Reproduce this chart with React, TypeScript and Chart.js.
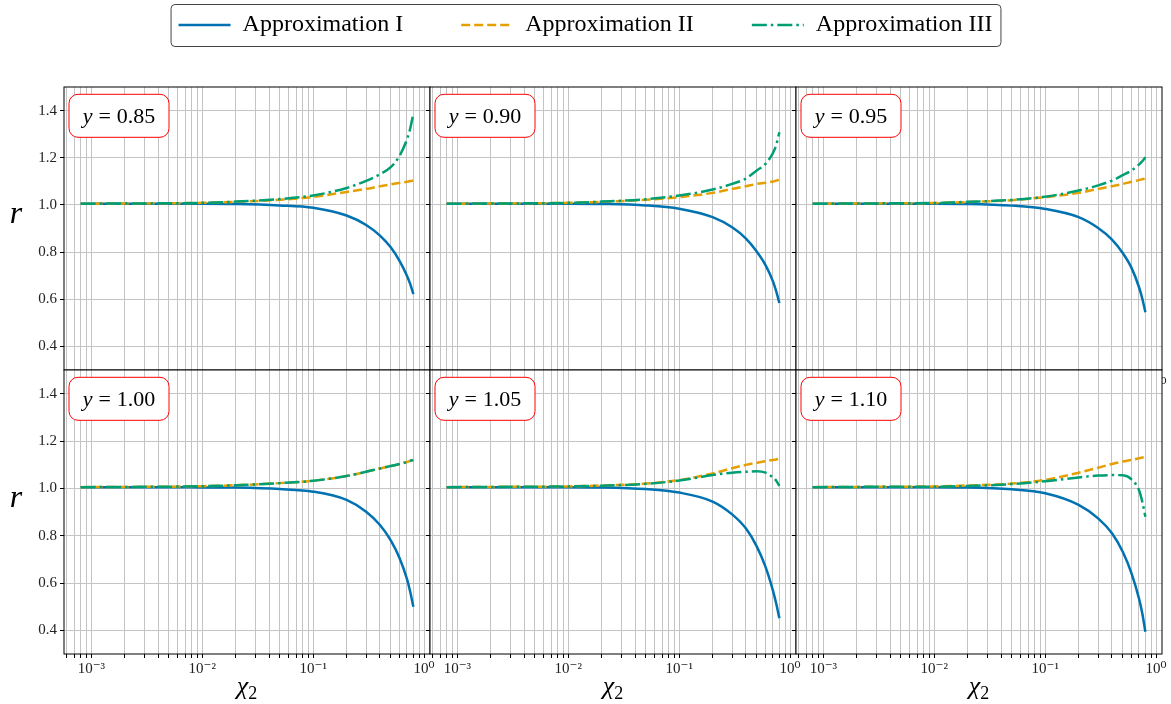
import React, { useEffect, useRef } from 'react';
import { Chart, registerables } from 'chart.js';

Chart.register(...registerables);

// ---------------- data ----------------
const chiValues = [0.0008, 0.002, 0.005, 0.01, 0.02, 0.05, 0.1, 0.2, 0.3, 0.4, 0.5, 0.6, 0.7, 0.75, 0.8];

const seriesNames = ['Approximation I', 'Approximation II', 'Approximation III'];
const panelLabels = ['0.85', '0.90', '0.95', '1.00', '1.05', '1.10'];

// y = 0.85
const rI_085 = [1.005, 1.005, 1.005, 1.005, 1.004, 0.998, 0.988, 0.955, 0.915, 0.870, 0.820, 0.763, 0.700, 0.664, 0.622];
const rII_085 = [1.005, 1.006, 1.007, 1.009, 1.013, 1.022, 1.034, 1.055, 1.068, 1.079, 1.087, 1.093, 1.098, 1.101, 1.103];
const rIII_085 = [1.005, 1.006, 1.007, 1.009, 1.014, 1.025, 1.040, 1.072, 1.102, 1.130, 1.160, 1.208, 1.278, 1.325, 1.388];
// y = 0.90
const rI_090 = [1.005, 1.005, 1.005, 1.005, 1.004, 0.998, 0.984, 0.948, 0.905, 0.857, 0.802, 0.745, 0.676, 0.633, 0.584];
const rII_090 = [1.005, 1.006, 1.007, 1.009, 1.013, 1.022, 1.033, 1.051, 1.068, 1.079, 1.089, 1.094, 1.099, 1.103, 1.107];
const rIII_090 = [1.005, 1.006, 1.007, 1.009, 1.014, 1.024, 1.040, 1.065, 1.089, 1.112, 1.146, 1.174, 1.220, 1.255, 1.308];
// y = 0.95
const rI_095 = [1.005, 1.005, 1.005, 1.005, 1.004, 0.997, 0.983, 0.948, 0.902, 0.853, 0.796, 0.733, 0.652, 0.603, 0.545];
const rII_095 = [1.005, 1.006, 1.007, 1.008, 1.012, 1.020, 1.033, 1.051, 1.068, 1.079, 1.089, 1.098, 1.105, 1.109, 1.112];
const rIII_095 = [1.005, 1.006, 1.007, 1.008, 1.013, 1.021, 1.035, 1.061, 1.083, 1.103, 1.126, 1.146, 1.171, 1.185, 1.202];
// y = 1.00
const rI_100 = [1.005, 1.005, 1.005, 1.004, 1.003, 0.997, 0.986, 0.951, 0.901, 0.845, 0.780, 0.706, 0.617, 0.562, 0.500];
const rII_100 = [1.005, 1.006, 1.007, 1.009, 1.013, 1.022, 1.032, 1.052, 1.070, 1.084, 1.094, 1.103, 1.111, 1.116, 1.120];
const rIII_100 = [1.005, 1.006, 1.007, 1.009, 1.013, 1.022, 1.032, 1.052, 1.070, 1.084, 1.094, 1.103, 1.111, 1.116, 1.120];
// y = 1.05
const rI_105 = [1.005, 1.005, 1.005, 1.005, 1.004, 0.997, 0.982, 0.944, 0.890, 0.830, 0.755, 0.668, 0.568, 0.512, 0.451];
const rII_105 = [1.005, 1.006, 1.007, 1.008, 1.012, 1.020, 1.035, 1.063, 1.085, 1.099, 1.108, 1.115, 1.120, 1.122, 1.125];
const rIII_105 = [1.005, 1.006, 1.007, 1.008, 1.011, 1.019, 1.033, 1.056, 1.066, 1.070, 1.072, 1.066, 1.046, 1.032, 1.010];
// y = 1.10
const rI_110 = [1.005, 1.005, 1.005, 1.005, 1.004, 0.996, 0.979, 0.930, 0.873, 0.810, 0.732, 0.641, 0.535, 0.472, 0.394];
const rII_110 = [1.005, 1.006, 1.007, 1.008, 1.012, 1.020, 1.036, 1.066, 1.087, 1.103, 1.113, 1.120, 1.127, 1.130, 1.134];
const rIII_110 = [1.005, 1.006, 1.007, 1.007, 1.010, 1.018, 1.030, 1.046, 1.054, 1.056, 1.055, 1.038, 0.993, 0.944, 0.880];

const panelSeries = [
  [rI_085, rII_085, rIII_085],
  [rI_090, rII_090, rIII_090],
  [rI_095, rII_095, rIII_095],
  [rI_100, rII_100, rIII_100],
  [rI_105, rII_105, rIII_105],
  [rI_110, rII_110, rIII_110],
];

const yTicks = [0.4, 0.6, 0.8, 1.0, 1.2, 1.4];
const xDecades = [1e-3, 1e-2, 1e-1, 1];
const xDecadeLabels = ['10\u207B\u00B3', '10\u207B\u00B2', '10\u207B\u00B9', '10\u2070'];

// ---------------- styling ----------------
const X_MIN = Math.pow(10, -3.247);
const X_MAX = Math.pow(10, 0.053);
const Y_MIN = 0.3;
const Y_MAX = 1.5;

const COLORS = ['#0072B2', '#E69F00', '#009E73'];
const DASHES: number[][] = [[], [9, 4], [15, 4, 2.5, 4]];
const LINE_W = 2.5;
const FONT = '"Liberation Serif", "DejaVu Serif", serif';

const COL_LEFT = [64, 430, 796];
const PANEL_W = 366;
const ROW_TOP = [87, 370];
const ROW_H = [283, 284];
const AX_W = 60;
const AX_H = 50;
const PAD_T = 4;
const PAD_R = 6;

// gridline positions (major decades + minor 2..9 multiples) inside the x range
const xGridValues: number[] = [];
for (let e = -4; e <= 0; e++) {
  for (let m = 1; m <= 9; m++) {
    const v = m * Math.pow(10, e);
    if (v >= X_MIN && v <= X_MAX) xGridValues.push(v);
  }
}

function decadeLabel(v: number): string {
  for (let i = 0; i < xDecades.length; i++) {
    if (Math.abs(Math.log10(v) - Math.log10(xDecades[i])) < 1e-6) return xDecadeLabels[i];
  }
  return '';
}

function zeroPadding(s: any) {
  s.paddingTop = 0;
  s.paddingBottom = 0;
  s.paddingLeft = 0;
  s.paddingRight = 0;
}

function panelPlugin(label: string) {
  return {
    id: 'panelDeco',
    beforeDraw(chart: any) {
      const { ctx, chartArea: a } = chart;
      ctx.save();
      ctx.fillStyle = '#ffffff';
      ctx.fillRect(a.left, a.top, a.right - a.left, a.bottom - a.top);
      ctx.restore();
    },
    afterDraw(chart: any) {
      const { ctx, chartArea: a } = chart;
      ctx.save();
      ctx.strokeStyle = '#000';
      ctx.lineWidth = 1;
      ctx.strokeRect(a.left, a.top, a.right - a.left, a.bottom - a.top);

      const bx = a.left + 5;
      const by = a.top + 7.3;
      const bw = 100;
      const bh = 43;
      ctx.beginPath();
      ctx.roundRect(bx, by, bw, bh, 9);
      ctx.fillStyle = '#fff';
      ctx.fill();
      ctx.strokeStyle = '#ff0000';
      ctx.lineWidth = 1;
      ctx.stroke();

      const italic = 'italic 22px ' + FONT;
      const regular = '22px ' + FONT;
      ctx.font = italic;
      const wy = ctx.measureText('y').width;
      ctx.font = regular;
      const we = ctx.measureText('=').width;
      const wn = ctx.measureText(label).width;
      const gap = 6;
      const total = wy + gap + we + gap + wn;
      let x = bx + bw / 2 - total / 2;
      const base = by + 28.4;
      ctx.fillStyle = '#000';
      ctx.textAlign = 'left';
      ctx.textBaseline = 'alphabetic';
      ctx.font = italic;
      ctx.fillText('y', x, base);
      x += wy + gap;
      ctx.font = regular;
      ctx.fillText('=', x, base);
      x += we + gap;
      ctx.fillText(label, x, base);
      ctx.restore();
    },
  };
}

function makePanelConfig(p: number): any {
  const col = p % 3;
  const series = panelSeries[p];
  const grid = {
    color: '#c4c4c4',
    lineWidth: 1,
    drawTicks: true,
    tickLength: 4,
    tickColor: '#000',
    tickWidth: 1,
  };
  return {
    type: 'line',
    data: {
      datasets: series.map((arr, s) => ({
        label: seriesNames[s],
        data: chiValues.map((x, i) => ({ x, y: arr[i] })),
        borderColor: COLORS[s],
        backgroundColor: COLORS[s],
        borderWidth: LINE_W,
        borderDash: DASHES[s],
        pointRadius: 0,
        fill: false,
        cubicInterpolationMode: 'monotone',
        order: 3 - s,
      })),
    },
    options: {
      animation: false,
      responsive: false,
      events: [],
      layout: { padding: { left: 0, top: PAD_T, right: PAD_R, bottom: 0 } },
      plugins: { legend: { display: false }, tooltip: { enabled: false } },
      scales: {
        x: {
          type: 'logarithmic',
          min: X_MIN,
          max: X_MAX,
          afterBuildTicks: (s: any) => {
            s.ticks = xGridValues.map((v) => ({ value: v }));
          },
          afterFit: (s: any) => {
            s.height = AX_H;
            zeroPadding(s);
          },
          grid,
          border: { display: false },
          ticks: {
            autoSkip: false,
            maxRotation: 0,
            minRotation: 0,
            padding: 2,
            color: '#222',
            font: { family: FONT, size: 15 },
            callback: (v: any) => decadeLabel(Number(v)),
          },
        },
        y: {
          type: 'linear',
          min: Y_MIN,
          max: Y_MAX,
          afterBuildTicks: (s: any) => {
            s.ticks = yTicks.map((v) => ({ value: v }));
          },
          afterFit: (s: any) => {
            s.width = AX_W;
            zeroPadding(s);
          },
          grid,
          border: { display: false },
          ticks: {
            display: col === 0,
            padding: 3,
            color: '#222',
            font: { family: FONT, size: 15 },
            callback: (v: any) => Number(v).toFixed(1),
          },
        },
      },
    },
    plugins: [panelPlugin(panelLabels[p])],
  };
}

const LEGEND_PAD = 58;

function makeLegendConfig(): any {
  return {
    type: 'line',
    data: {
      datasets: seriesNames.map((name, s) => ({
        label: name,
        data: [],
        borderColor: COLORS[s],
        borderWidth: LINE_W,
        borderDash: DASHES[s],
      })),
    },
    options: {
      animation: false,
      responsive: false,
      events: [],
      layout: { padding: 0 },
      scales: { x: { display: false }, y: { display: false } },
      plugins: {
        tooltip: { enabled: false },
        legend: {
          display: true,
          position: 'top',
          align: 'center',
          labels: {
            usePointStyle: true,
            pointStyle: 'line',
            pointStyleWidth: 52,
            padding: LEGEND_PAD,
            color: '#000',
            font: { family: FONT, size: 24 },
            generateLabels: () =>
              seriesNames.map((name, s) => ({
                text: name,
                fillStyle: COLORS[s],
                strokeStyle: COLORS[s],
                fontColor: '#000',
                lineWidth: LINE_W,
                lineDash: DASHES[s],
                lineCap: 'butt',
                pointStyle: 'line',
                hidden: false,
                datasetIndex: s,
              })),
          },
        },
      },
    },
    plugins: [
      {
        id: 'legendFrame',
        afterDraw(chart: any) {
          const boxes = chart.legend && chart.legend.legendHitBoxes;
          if (!boxes || !boxes.length) return;
          const first = boxes[0];
          const last = boxes[boxes.length - 1];
          const cy = first.top + first.height / 2;
          const left = first.left - 8;
          const right = last.left + last.width + 8;
          const { ctx } = chart;
          ctx.save();
          ctx.beginPath();
          ctx.roundRect(left + 0.5, cy - 21 + 0.5, right - left, 42, 4);
          ctx.strokeStyle = '#444';
          ctx.lineWidth = 1;
          ctx.stroke();
          ctx.restore();
        },
      },
    ],
  };
}

function ChartCanvas(props: { make: () => any; left: number; top: number; width: number; height: number }) {
  const ref = useRef<HTMLCanvasElement>(null);
  useEffect(() => {
    const chart = new Chart(ref.current as HTMLCanvasElement, props.make());
    return () => chart.destroy();
  }, []);
  return (
    <canvas
      ref={ref}
      width={props.width}
      height={props.height}
      style={{ position: 'absolute', left: props.left, top: props.top, width: props.width, height: props.height }}
    />
  );
}

export default function App() {
  const panels = [0, 1, 2, 3, 4, 5];
  return (
    <div
      style={{
        position: 'absolute',
        left: 0,
        top: 0,
        width: 1171,
        height: 704,
        overflow: 'hidden',
        background: '#fff',
      }}
    >
      <ChartCanvas make={makeLegendConfig} left={0} top={25 - (LEGEND_PAD + 12)} width={1171} height={220} />
      {panels.map((p) => {
        const row = Math.floor(p / 3);
        const col = p % 3;
        return (
          <ChartCanvas
            key={p}
            make={() => makePanelConfig(p)}
            left={COL_LEFT[col] - AX_W}
            top={ROW_TOP[row] - PAD_T}
            width={PANEL_W + AX_W + PAD_R}
            height={ROW_H[row] + PAD_T + AX_H}
          />
        );
      })}
      {[192, 476].map((t, i) => (
        <div
          key={'r' + i}
          style={{
            position: 'absolute',
            left: 0,
            top: t,
            width: 32,
            height: 40,
            lineHeight: '40px',
            textAlign: 'center',
            fontFamily: FONT,
            fontStyle: 'italic',
            fontSize: 32,
            color: '#000',
          }}
        >
          r
        </div>
      ))}
      {COL_LEFT.map((l, i) => (
        <div
          key={'x' + i}
          style={{
            position: 'absolute',
            left: l,
            top: 671,
            width: PANEL_W,
            height: 30,
            lineHeight: '30px',
            textAlign: 'center',
            fontFamily: FONT,
            fontSize: 26,
            color: '#000',
            whiteSpace: 'nowrap',
          }}
        >
          <span style={{ fontStyle: 'italic' }}>χ</span>
          <span style={{ fontSize: 18, position: 'relative', top: 5 }}>2</span>
        </div>
      ))}
    </div>
  );
}
